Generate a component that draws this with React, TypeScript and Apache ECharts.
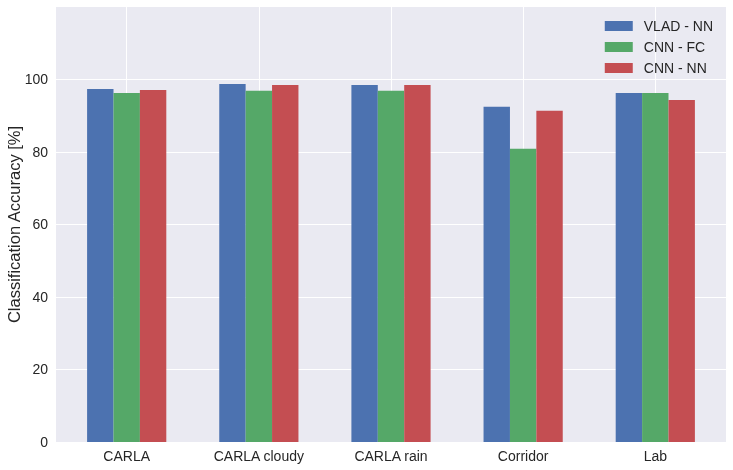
import React, { useEffect, useRef } from "react";
import * as echarts from "echarts";

const categories = ["CARLA", "CARLA cloudy", "CARLA rain", "Corridor", "Lab"];
const seriesNames = ["VLAD - NN", "CNN - FC", "CNN - NN"];
const vladNN = [97.3, 98.7, 98.4, 92.4, 96.2];
const cnnFC = [96.2, 96.8, 96.8, 80.8, 96.2];
const cnnNN = [97.0, 98.4, 98.4, 91.3, 94.3];
const colors = ["#4C72B0", "#55A868", "#C44E52"];
const yTicks = [0, 20, 40, 60, 80, 100];

const FONT = "'Liberation Sans', Arial, sans-serif";

export default function App() {
  const ref = useRef<HTMLDivElement>(null);
  useEffect(() => {
    if (!ref.current) return;
    const chart = echarts.init(ref.current, null, { renderer: "svg" });
    const values = [vladNN, cnnFC, cnnNN];
    chart.setOption({
      animation: false,
      textStyle: { fontFamily: FONT },
      grid: {
        left: 56,
        right: 7,
        top: 7,
        bottom: 28,
        containLabel: false,
        outerBoundsMode: "none",
        show: true,
        backgroundColor: "#EAEAF2",
        borderWidth: 0,
      },
      legend: {
        orient: "vertical",
        right: 15,
        top: 14,
        itemWidth: 28,
        itemHeight: 10,
        itemGap: 7,
        icon: "rect",
        textStyle: {
          fontSize: 14,
          color: "#262626",
          fontFamily: FONT,
          lineHeight: 14,
          padding: [0, 0, 0, 6],
        },
        data: seriesNames,
      },
      xAxis: {
        type: "value",
        min: -0.535,
        max: 4.535,
        axisLine: { show: false },
        axisTick: { show: false },
        splitLine: {
          show: true,
          showMinLine: false,
          showMaxLine: false,
          lineStyle: { color: "#FFFFFF", width: 1 },
        },
        axisLabel: {
          color: "#262626",
          fontSize: 14,
          fontFamily: FONT,
          margin: 7,
          showMinLabel: false,
          showMaxLabel: false,
          formatter: (v: number) => {
            const i = Math.round(v);
            return Math.abs(v - i) < 1e-6 && i >= 0 && i < categories.length ? categories[i] : "";
          },
        },
      },
      yAxis: {
        type: "value",
        min: 0,
        max: 119.9,
        interval: 20,
        name: "Classification Accuracy [%]",
        nameLocation: "middle",
        nameGap: 34,
        nameMoveOverlap: false,
        nameTextStyle: { fontSize: 16.5, color: "#262626", fontFamily: FONT },
        axisLine: { show: false },
        axisTick: { show: false },
        splitLine: {
          show: true,
          showMaxLine: false,
          lineStyle: { color: "#FFFFFF", width: 1 },
        },
        axisLabel: {
          color: "#262626",
          fontSize: 14,
          fontFamily: FONT,
          margin: 8,
          showMaxLabel: false,
          formatter: (v: number) =>
            yTicks.includes(Math.round(v)) && Math.abs(v - Math.round(v)) < 1e-6 ? String(Math.round(v)) : "",
        },
      },
      series: seriesNames.map((name, s) => ({
        name,
        type: "bar",
        barWidth: 26.4,
        barGap: "0%",
        itemStyle: { color: colors[s] },
        data: values[s].map((v, i) => [i, v]),
      })),
    });
    return () => chart.dispose();
  }, []);
  return <div ref={ref} style={{ position: "fixed", left: 0, top: 0, width: 733, height: 470 }} />;
}
